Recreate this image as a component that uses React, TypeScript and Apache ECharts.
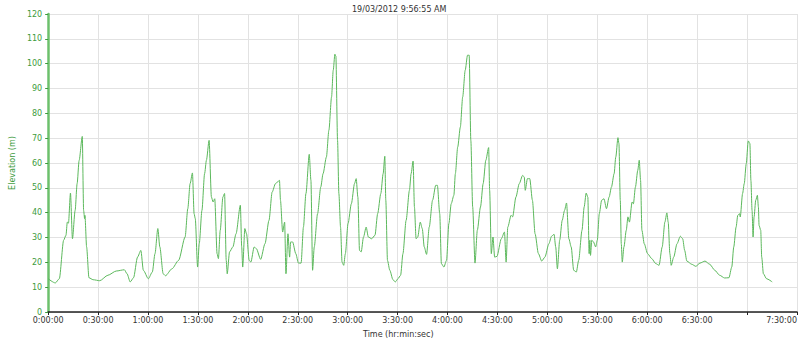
import React, { useEffect, useRef } from "react";
import * as echarts from "echarts";

const TITLE = "19/03/2012 9:56:55 AM";
const X_NAME = "Time (hr:min:sec)";
const Y_NAME = "Elevation (m)";

// elapsed time in minutes
const TIME_MIN = [
  0, 4.3, 6.7, 9.3, 10.7, 11.5, 12.2, 13.4, 14.6, 16.2, 17.4, 18.6, 20.5, 21.3, 21.9, 22.1, 23.1, 24.5, 27.0, 31.0,
  35.9, 40.9, 45.8, 47.4, 49.3, 51.3, 53.7, 55.7, 57.2, 60.2, 62.6, 64.2, 65.9, 67.1, 69.1, 70.5, 74.4, 78.4, 82.3, 83.9,
  85.3, 86.7, 87.7, 88.4, 89.8, 90.8, 92.4, 94.0, 95.1, 96.7, 98.1, 99.1, 100.1, 101.5, 102.3, 103.4, 105.0, 106, 107, 107.6,
  109, 111, 112.9, 115.5, 116.3, 116.9, 118.2, 119.2, 120.8, 121.8, 123.8, 125.1, 127.7, 130.3, 132.7, 134.6, 136.6, 139.0, 139.6, 140.9,
  142.1, 142.9, 144.1, 145.1, 145.7, 146.9, 148.8, 150.4, 152.0,
  153.4, 154.9, 156.9, 157.9, 158.9, 159.9, 161.9, 163.8, 165.2, 167.2, 168.7, 170.3, 171.3, 172.3, 172.9, 173.9, 174.7, 175.7, 176.6, 177.6,
  178.6, 180.2, 182.2, 184.1, 185.1, 186.1, 187.1, 188.1, 189.5, 191.1, 192.4, 194.4, 196.4, 198, 199.9, 201.3, 202.3, 202.9, 203.9, 205.3,
  207.2, 208.6, 210.2, 211.8, 213.2, 215.1, 217.1, 218.1, 219.3, 220.1, 221.1, 222.1, 223.6, 224.8, 226.0, 227.4, 229.0, 231.0, 232.9, 233.9,
  235.3, 236.3, 237.8, 239.4, 240.8, 242.2, 243.8, 244.7, 246.1, 247.7, 249.1, 250.6, 252.0, 253.0, 254.0, 255.1, 256.5, 257.9, 259.8, 261.4,
  263.0, 264.7, 265.3, 266.3, 267.3, 268.3, 269.7, 272.3, 274.2, 275.2, 276.2, 278.2, 279.1, 281.1, 283.1, 285.1, 286.1, 286.7, 288.0, 289.4,
  291.0, 292.6, 294.6, 296.6, 298.5, 300.9,
  302.5, 304.0, 305, 306, 307.4, 308.9, 310.3, 311.5, 312.9, 314.3, 315.8, 317.4, 318.8, 320.8, 322.1, 323.3, 324.3, 325.1, 325.5, 325.9,
  326.7, 327.7, 329.0, 330.0, 331.2, 332.6, 334, 335.5, 337.1, 338.5, 340.1, 341.1, 342.4, 343.0, 343.8, 344.4, 345, 346, 347.4, 348.4,
  349.3, 350.9, 351.7, 352.9, 354.3, 355.2, 356.0, 356.8, 358.2, 360.2, 362.7, 365.1, 367.1, 369.0, 370.6, 371.8, 372.6, 373.6, 374.4, 375.9,
  377.9, 379.9, 381.3, 382.5, 383.8, 386.8, 389.2, 391.7, 394.7, 397.6, 400.6, 403.5, 406.5, 409.1, 410.8, 412.0, 413.4, 414.4, 415.4, 415.9,
  417.3, 418.3, 419.5, 420.7, 421.7, 422.3, 423.0, 423.6, 424.2, 425.2, 426.2, 426.8, 427.2, 428.2, 428.8, 429.8, 431.7, 435.1,
];

// elevation in metres
const ELEV = [
  13.4, 11.7, 13.4, 28.9, 30.9, 36.2, 35.8, 47.9, 29.5, 40.9, 51.7, 61, 70.7, 40.9, 37.6, 38.9, 26.2, 13.8, 13.0, 12.6,
  14.8, 16.5, 17.0, 15.4, 12.1, 13.8, 22.1, 24.8, 16.8, 13.4, 16.1, 23.5, 33.6, 26.2, 15.4, 14.6, 17.4, 20.8, 30.2, 41.6,
  51.7, 56, 39.6, 37.6, 18.1, 27.5, 40.9, 55.7, 61.1, 69.1, 46.3, 44.3, 45.6, 23.5, 21.5, 32.9, 46.3, 47.7, 20.8, 15.4,
  24.2, 26.2, 31.5, 43.0, 26.2, 18.1, 33.6, 31.5, 20.8, 20.1, 26.2, 25.5, 21.2, 27.5, 36.9, 48.3, 51.7, 53.0, 45, 32.2,
  36.2, 15.4, 31.5, 22.1, 28.2, 28.2, 23.5, 19.7, 19.7,
  34.2, 47.7, 63.5, 53, 16.8, 26.2, 39.6, 50.3, 55.7, 62.4, 73.2, 86.6, 97.3, 103.8, 103, 69.1, 47.7, 34.2, 20.1, 18.8,
  23.5, 35.6, 43.6, 51.7, 53.7, 46.3, 24.8, 24.2, 30.2, 34.2, 30.2, 29.5, 30.9, 39.6, 47.7, 55.7, 62.7, 45, 20.8, 16.8,
  13.0, 12.1, 13.4, 14.8, 23.5, 36.9, 49, 55.7, 60.8, 42.3, 29.5, 30.2, 36.2, 33.6, 26.2, 23.2, 34.2, 45, 51, 51,
  39.6, 19.5, 18.1, 20.8, 35.6, 43.6, 47, 55.7, 66.4, 74.5, 86.6, 97.3, 103.4, 103.4, 69.1, 42.3, 19.7, 32.9, 42.3, 51.7,
  61.1, 66.2, 49, 23.5, 30.2, 22.1, 22.4, 29.5, 32.2, 20.1, 34.2, 38.9, 38.3, 46.3, 51.7, 55, 54.4, 49, 53.7, 53.7,
  45, 31.5, 23.5, 20.5, 22.1, 27.5,
  30.5, 31.3, 26.2, 17.4, 28.9, 36.9, 40.9, 43.9, 29.5, 26.2, 16.8, 16.1, 20.8, 32.9, 42.3, 47.9, 46.3, 23.5, 28.9, 22.8,
  28.9, 28.2, 26.2, 28.9, 39.6, 45, 45.6, 41.6, 46.3, 50.3, 55.7, 62.4, 70.2, 67.8, 45, 27.5, 20.1, 26.2, 32.9, 38.3,
  36.2, 44.3, 43.6, 50.3, 57, 61.1, 53, 32.9, 27.5, 23.5, 21.5, 19.5, 18.8, 26.2, 36.2, 39.9, 36.2, 23.5, 18.8, 22.1,
  27.5, 30.5, 29.5, 24.8, 20.5, 19.2, 18.4, 19.7, 20.5, 19.2, 16.8, 14.8, 13.7, 13.8, 18.1, 26.2, 34.2, 38.9, 39.6, 38.3,
  47.7, 51.7, 59.7, 68.9, 67.8, 53, 40.9, 30.2, 38.3, 45, 47, 42.3, 34.9, 32.9, 22.1, 15.4, 13.4, 12.1,
];

const X_MIN = 0;
const X_MAX = 450;
const X_STEP = 30;
const Y_MIN = 0;
const Y_MAX = 120;
const Y_STEP = 10;
const HIDDEN_X_LABELS = [420];

function fmtTime(min: number): string {
  const total = Math.round(min * 60);
  const h = Math.floor(total / 3600);
  const m = Math.floor((total % 3600) / 60);
  const s = total % 60;
  return `${h}:${String(m).padStart(2, "0")}:${String(s).padStart(2, "0")}`;
}

export default function App() {
  const ref = useRef<HTMLDivElement>(null);
  useEffect(() => {
    document.body.style.margin = "0";
    if (!ref.current) return;
    const chart = echarts.init(ref.current, undefined, { renderer: "svg" });
    const font = "DejaVu Sans";
    const data = TIME_MIN.map((t, i) => [t, ELEV[i]]);
    chart.setOption({
      animation: false,
      backgroundColor: "#ffffff",
      title: [
        {
          text: TITLE,
          left: 347,
          top: 0,
          textStyle: { fontFamily: font, fontSize: 8, fontWeight: "normal", color: "#333333" },
        },
        {
          text: X_NAME,
          left: 358,
          top: 325,
          textStyle: { fontFamily: font, fontSize: 8, fontWeight: "normal", color: "#333333" },
        },
      ],
      grid: { left: 37.6, right: 1.4, top: 14, bottom: 26, containLabel: false },
      xAxis: {
        type: "value",
        min: X_MIN,
        max: X_MAX,
        interval: X_STEP,
        axisLine: { show: true, onZero: false, lineStyle: { color: "#222222", width: 1.5 } },
        axisTick: { show: true, length: 3, lineStyle: { color: "#222222" } },
        axisLabel: {
          fontFamily: font,
          fontSize: 8,
          color: "#333333",
          margin: 4,
          showMaxLabel: true,
          showMinLabel: true,
          alignMaxLabel: "right",
          formatter: (v: number) => (HIDDEN_X_LABELS.includes(v) ? "" : fmtTime(v)),
        },
        splitLine: { show: true, lineStyle: { color: "#e2e2e2", width: 1 } },
      },
      yAxis: {
        type: "value",
        min: Y_MIN,
        max: Y_MAX,
        interval: Y_STEP,
        name: Y_NAME,
        nameLocation: "middle",
        nameGap: 30,
        nameTextStyle: { fontFamily: font, fontSize: 8, color: "#3d9b3d" },
        axisLine: { show: true, lineStyle: { color: "#6cc06c", width: 2.5 } },
        axisTick: { show: true, length: 3, lineStyle: { color: "#3d9b3d" } },
        axisLabel: { fontFamily: font, fontSize: 8, color: "#3d9b3d", margin: 6 },
        splitLine: { show: true, lineStyle: { color: "#e2e2e2", width: 1 } },
      },
      series: [
        {
          type: "line",
          data,
          showSymbol: false,
          smooth: 0.25,
          smoothMonotone: "x",
          lineStyle: { color: "#5cb85c", width: 1 },
          itemStyle: { color: "#5cb85c" },
        },
      ],
    });
    return () => chart.dispose();
  }, []);
  return <div ref={ref} style={{ width: 800, height: 338 }} />;
}
